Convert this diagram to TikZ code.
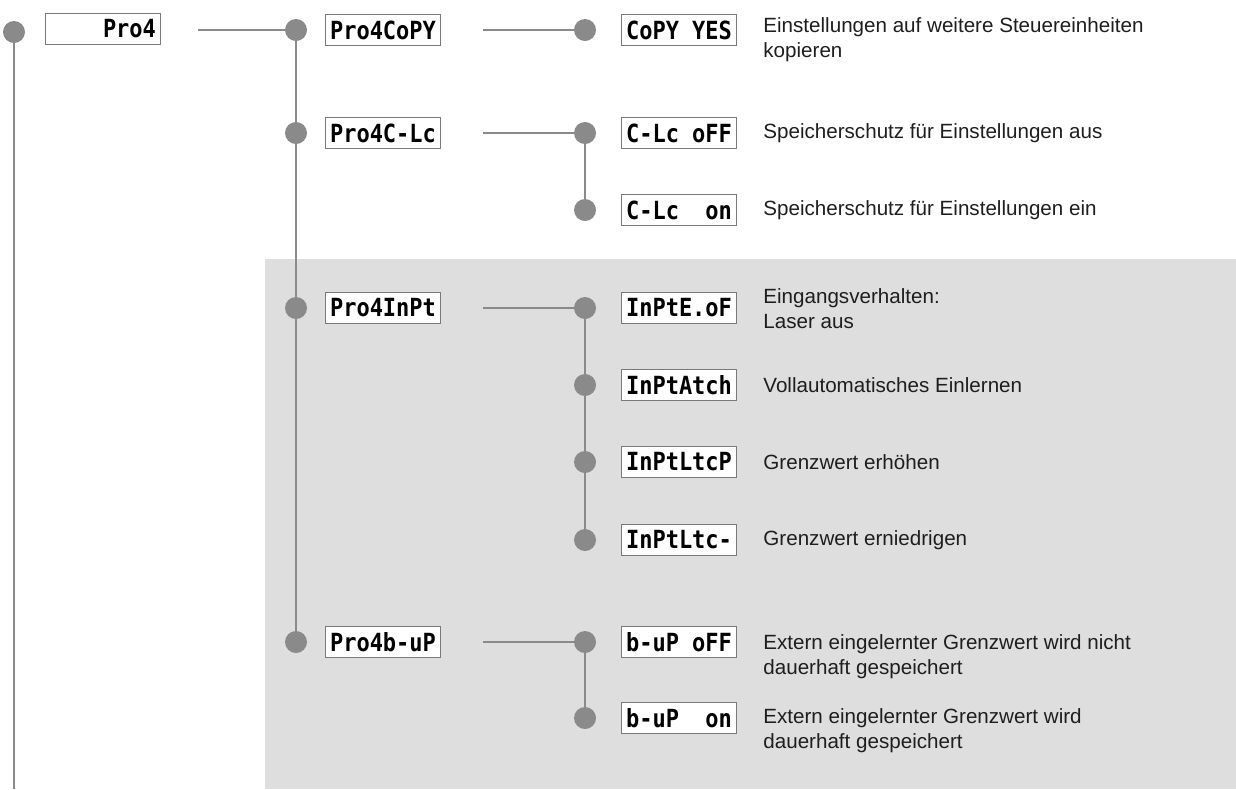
\documentclass[tikz,border=0pt]{standalone}
\usepackage{fontspec}
\setmainfont{Liberation Sans}
\newfontfamily\lcdfont[FakeStretch=0.88]{DejaVu Sans Mono}
\definecolor{linegray}{HTML}{8A8A8A}
\definecolor{boxgray}{HTML}{7A7A7A}
\definecolor{bggray}{HTML}{DEDEDE}
\definecolor{txt}{HTML}{1E1E1E}
\tikzset{
  dot/.style={circle,fill=linegray,inner sep=0pt,minimum size=11pt},
  lcd/.style={draw=boxgray,fill=white,line width=0.6pt,minimum width=57.5pt,
    minimum height=15.5pt,inner sep=0pt,text=black,
    font=\lcdfont\bfseries\fontsize{12.5}{12.5}\selectfont},
  desc/.style={anchor=west,align=left,inner sep=0pt,text=txt,
    font=\fontsize{10.3}{12.5}\selectfont},
  trunk/.style={draw=linegray,line width=1.3pt},
  twig/.style={draw=linegray,line width=0.7pt}
}
\begin{document}
\begin{tikzpicture}[x=0.5pt,y=-0.5pt]
  \useasboundingbox (0,0) rectangle (1236,789);
  \fill[bggray] (265,259) rectangle (1236,789);
  % level 1
  \node[dot] (r) at (14,32) {};
  \coordinate (rend) at (14,789);
  \node[lcd] (prog) at (103,29) {~~~~Pro4};
  \coordinate (prog-out) at (198,30);
  % level 2
  \node[dot] (a1) at (296,30) {};
  \node[dot] (a2) at (296,133) {};
  \node[dot] (a3) at (296,308) {};
  \node[dot] (a4) at (296,642) {};
  \node[lcd] (copy) at (383,30) {Pro4CoPY};
  \node[lcd] (lock) at (383,133) {Pro4C-Lc};
  \node[lcd] (inpt) at (383,308) {Pro4InPt};
  \node[lcd] (bup) at (383,642) {Pro4b-uP};
  \coordinate (copy-out) at (483,30);
  \coordinate (lock-out) at (483,133);
  \coordinate (inpt-out) at (483,308);
  \coordinate (bup-out) at (483,642);
  % level 3
  \node[dot] (c1) at (585,30) {};
  \node[dot] (l1) at (585,133) {};
  \node[dot] (l2) at (585,210) {};
  \node[dot] (i1) at (585,308) {};
  \node[dot] (i2) at (585,385) {};
  \node[dot] (i3) at (585,462) {};
  \node[dot] (i4) at (585,540) {};
  \node[dot] (b1) at (585,642) {};
  \node[dot] (b2) at (585,718) {};
  \node[lcd] (copyyes) at (679,30) {CoPY~YES};
  \node[lcd] (lockoff) at (679,133) {C-Lc~oFF};
  \node[lcd] (lockon) at (679,210) {C-Lc~~on};
  \node[lcd] (inpteof) at (679,308) {InPtE.oF};
  \node[lcd] (inptatch) at (679,385) {InPtAtch};
  \node[lcd] (inptltcp) at (679,462) {InPtLtcP};
  \node[lcd] (inptltcm) at (679,540) {InPtLtc-};
  \node[lcd] (bupoff) at (679,642) {b-uP~oFF};
  \node[lcd] (bupon) at (679,718) {b-uP~~on};
  \node[desc] (t1) at (763,40) {Einstellungen auf weitere Steuereinheiten\\kopieren};
  \node[desc] (t2) at (763,133) {Speicherschutz für Einstellungen aus};
  \node[desc] (t3) at (763,210) {Speicherschutz für Einstellungen ein};
  \node[desc] (t4) at (763,309) {Eingangsverhalten:\\Laser aus};
  \node[desc] (t5) at (763,385) {Vollautomatisches Einlernen};
  \node[desc] (t6) at (763,462) {Grenzwert erhöhen};
  \node[desc] (t7) at (763,540) {Grenzwert erniedrigen};
  \node[desc] (t8) at (763,657) {Extern eingelernter Grenzwert wird nicht\\dauerhaft gespeichert};
  \node[desc] (t9) at (763,731) {Extern eingelernter Grenzwert wird\\dauerhaft gespeichert};
  % connectors
  \draw[trunk] (r) -- (rend);
  \draw[twig] (prog-out) -- (a1);
  \draw[trunk] (a1) -- (a2) -- (a3) -- (a4);
  \draw[twig] (copy-out) -- (c1);
  \draw[twig] (lock-out) -- (l1);
  \draw[twig] (inpt-out) -- (i1);
  \draw[twig] (bup-out) -- (b1);
  \draw[trunk] (l1) -- (l2);
  \draw[trunk] (i1) -- (i2) -- (i3) -- (i4);
  \draw[trunk] (b1) -- (b2);
\end{tikzpicture}
\end{document}
